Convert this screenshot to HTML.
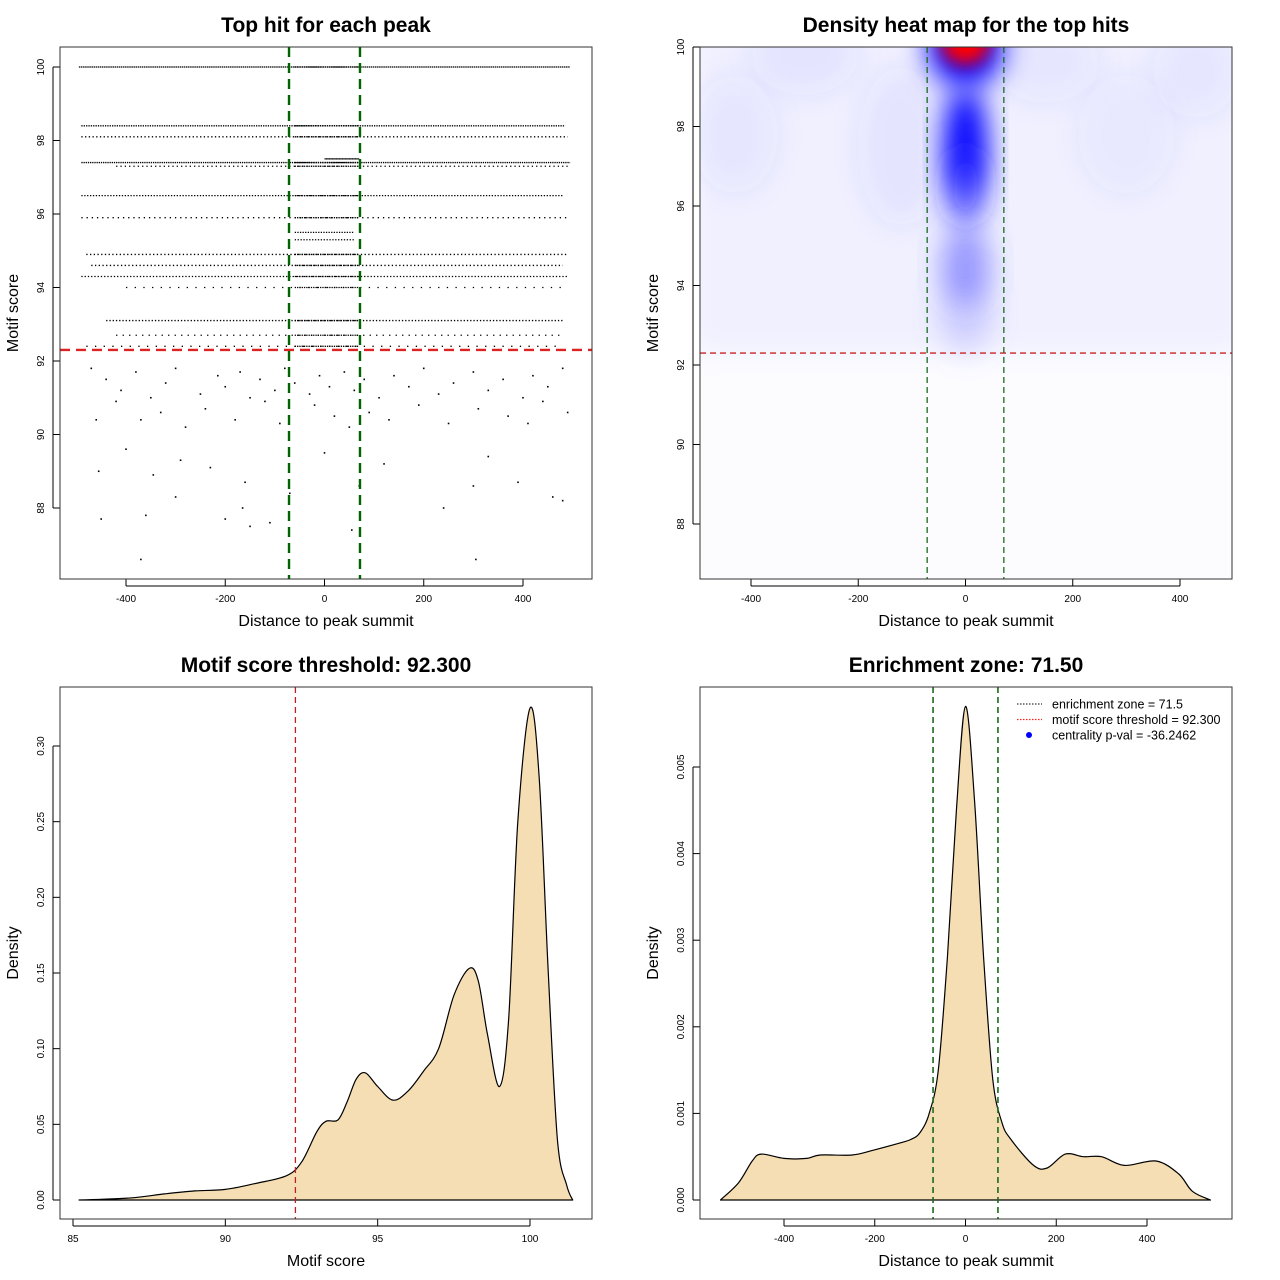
<!DOCTYPE html>
<html><head><meta charset="utf-8">
<style>
html,body{margin:0;padding:0;background:#fff;}
svg{display:block;font-family:"Liberation Sans",sans-serif;}
</style></head>
<body>
<svg id="chart" width="1280" height="1280" viewBox="0 0 1280 1280">
<defs>
<filter id="blur" x="-50%" y="-50%" width="200%" height="200%"><feGaussianBlur stdDeviation="14"/></filter>
<filter id="blur2" x="-50%" y="-50%" width="200%" height="200%"><feGaussianBlur stdDeviation="8"/></filter>
<clipPath id="clip2"><rect x="700" y="47" width="532" height="532"/></clipPath>
</defs>
</svg>
<script>
// ---------- Panel 1 data: top hit scatter ----------
const bandScores = [100, 98.4, 98.1, 97.5, 97.4, 97.3, 96.5, 95.9, 95.5, 95.3, 94.9, 94.6, 94.3, 94.0, 93.1, 92.7, 92.4];
const bandStart  = [-495, -490, -490, 0, -490, -420, -490, -490, -60, -60, -480, -470, -490, -400, -440, -420, -480];
const bandEnd    = [495, 485, 490, 70, 495, 490, 480, 495, 60, 60, 490, 480, 490, 480, 480, 480, 470];
const bandDensity= [1.0, 0.55, 0.35, 0.9, 0.6, 0.3, 0.45, 0.25, 0.5, 0.45, 0.35, 0.35, 0.4, 0.15, 0.4, 0.2, 0.15];
const lowX = [-470,-440,-410,-380,-350,-320,-300,-250,-215,-200,-170,-150,-130,-100,-80,-60,-30,-10,10,40,60,80,110,140,170,200,230,260,300,330,360,400,420,450,480,
  -460,-420,-370,-330,-280,-240,-180,-120,-90,-20,20,50,90,130,190,250,310,370,410,440,490,
  -455,-400,-345,-300,-230,-160,-70,0,70,120,240,330,390,460,-450,-360,-200,-150,55,300,480,-370,305,-165,-110,-290];
const lowY = [91.8,91.5,91.2,91.7,91.0,91.4,91.8,91.1,91.6,91.3,91.7,91.0,91.5,91.2,91.8,91.4,91.1,91.6,91.3,91.7,91.2,91.5,91.0,91.6,91.3,91.8,91.1,91.4,91.7,91.2,91.5,91.0,91.6,91.3,91.8,
  90.4,90.9,90.4,90.6,90.2,90.7,90.4,90.9,90.3,90.8,90.5,90.2,90.6,90.4,90.8,90.3,90.7,90.5,90.3,90.9,90.6,
  89.0,89.6,88.9,88.3,89.1,88.7,88.4,89.5,88.6,89.2,88.0,89.4,88.7,88.3,87.7,87.8,87.7,87.5,87.4,88.6,88.2,86.6,86.6,88.0,87.6,89.3];
const xTicks1 = [-400,-200,0,200,400];
const yTicks1 = [88,90,92,94,96,98,100];
// ---------- Panel 2 data: density heat blobs ----------
const blobX = [0, 0, 0, 0, 0, -430, -300, -120, 150, 300, 430, 0];
const blobY = [100, 97.7, 96.5, 94.5, 93.3, 97.8, 99.8, 97.5, 99.6, 97.8, 99.4, 100.1];
const blobRX = [70, 40, 40, 45, 50, 80, 100, 80, 100, 90, 80, 45];
const blobRY = [1.0, 1.3, 1.0, 1.0, 1.0, 1.5, 1.0, 2.0, 1.0, 1.5, 1.2, 0.55];
const blobAlpha = [1.0, 1.0, 0.7, 0.55, 0.3, 0.06, 0.07, 0.07, 0.06, 0.05, 0.06, 1.0];
const blobColor = ['#0000ff','#0000ff','#2020ff','#5050ff','#8080ff','#4040ff','#4040ff','#4040ff','#4040ff','#4040ff','#4040ff','#ff0000'];
const xTicks2 = [-400,-200,0,200,400];
const yTicks2 = [88,90,92,94,96,98,100];
// ---------- Panel 3 data: motif score density ----------
const scoreX = [85.2,86,87,88,89,90,91,92,92.5,93,93.3,93.7,94,94.3,94.6,95,95.5,96,96.5,97,97.5,98,98.3,98.6,99,99.3,99.6,100,100.3,100.6,100.9,101.2,101.4];
const scoreD = [0,0.0005,0.0015,0.004,0.006,0.007,0.011,0.016,0.025,0.045,0.052,0.053,0.065,0.08,0.084,0.075,0.066,0.072,0.085,0.1,0.135,0.153,0.145,0.11,0.075,0.12,0.25,0.325,0.28,0.15,0.04,0.01,0];
const xTicks3 = [85,90,95,100];
const yTicks3 = [0,0.05,0.10,0.15,0.20,0.25,0.30];
const yTickLabels3 = ['0.00','0.05','0.10','0.15','0.20','0.25','0.30'];
// ---------- Panel 4 data: distance density ----------
const distX = [-540,-500,-470,-450,-400,-350,-320,-250,-200,-150,-120,-100,-80,-60,-40,-20,0,20,40,60,80,100,150,180,220,260,300,350,420,470,500,540];
const distD = [0,0.0002,0.00045,0.00053,0.00048,0.00048,0.00052,0.00052,0.00058,0.00065,0.0007,0.00078,0.001,0.0015,0.0028,0.0045,0.0057,0.0046,0.0028,0.0014,0.0009,0.0007,0.0004,0.00037,0.00053,0.0005,0.0005,0.0004,0.00045,0.0003,0.0001,0];
const xTicks4 = [-400,-200,0,200,400];
const yTicks4 = [0,0.001,0.002,0.003,0.004,0.005];
const yTickLabels4 = ['0.000','0.001','0.002','0.003','0.004','0.005'];
const threshold = 92.3;
const zone = 71.5;

const svg = document.getElementById('chart');
const NS = 'http://www.w3.org/2000/svg';
function mk(tag, attrs, parent, text){
  const e = document.createElementNS(NS, tag);
  for (const k in attrs) e.setAttribute(k, attrs[k]);
  if (text !== undefined) e.textContent = text;
  (parent || svg).appendChild(e);
  return e;
}
function lin(d0,d1,r0,r1){ return v => r0 + (v-d0)*(r1-r0)/(d1-d0); }
function smooth(P){
  let d = `M${P[0][0].toFixed(1)},${P[0][1].toFixed(1)}`;
  for (let i=0;i<P.length-1;i++){
    const p0 = P[Math.max(0,i-1)], p1 = P[i], p2 = P[i+1], p3 = P[Math.min(P.length-1,i+2)];
    const c1x = p1[0]+(p2[0]-p0[0])/6, c1y = p1[1]+(p2[1]-p0[1])/6;
    const c2x = p2[0]-(p3[0]-p1[0])/6, c2y = p2[1]-(p3[1]-p1[1])/6;
    d += ` C${c1x.toFixed(1)},${c1y.toFixed(1)} ${c2x.toFixed(1)},${c2y.toFixed(1)} ${p2[0].toFixed(1)},${p2[1].toFixed(1)}`;
  }
  return d;
}

function frame(x0,y0,title,xlabel,ylabel,xs,ys,xt,yt,ytl,name){
  const g = mk('g',{});
  
  
  const t = mk('text',{x:x0+266,y:y0-15,'text-anchor':'middle','font-size':21,'font-weight':'bold'},g,title);
  
  
  const xl = mk('text',{x:x0+266,y:y0+579,'text-anchor':'middle','font-size':16},g,xlabel);
  
  
  const yl = mk('text',{x:x0-42,y:y0+266,'text-anchor':'middle','font-size':16,transform:`rotate(-90 ${x0-42} ${y0+266})`},g,ylabel);
  
  
  const xa = mk('g',{},g);
  
  
  xt.forEach(v=>{
    const px = xs(v);
    mk('line',{x1:px,x2:px,y1:y0+532,y2:y0+539,stroke:'#000'},xa);
    const l = mk('text',{x:px,y:y0+555,'text-anchor':'middle','font-size':10},xa,String(v));
    
    
  });
  mk('line',{x1:xs(xt[0]),x2:xs(xt[xt.length-1]),y1:y0+539,y2:y0+539,stroke:'#000'},xa);
  const ya = mk('g',{},g);
  
  
  yt.forEach((v,i)=>{
    const py = ys(v);
    mk('line',{x1:x0-7,x2:x0,y1:py,y2:py,stroke:'#000'},ya);
    const l = mk('text',{x:x0-16,y:py,'text-anchor':'middle','font-size':10,transform:`rotate(-90 ${x0-16} ${py})`},ya,ytl?ytl[i]:String(v));
    
    
  });
  mk('line',{x1:x0-7,x2:x0-7,y1:ys(yt[0]),y2:ys(yt[yt.length-1]),stroke:'#000'},ya);
  return g;
}
function box(x0,y0,g){
  const b = mk('rect',{x:x0,y:y0,width:532,height:532,fill:'none',stroke:'#333'},g);
  
  
}

// ===== Panel 1 =====
{
  const xs = lin(0,400,324.5,523), ys = lin(100,88,67,508);
  const g = frame(60,47,'Top hit for each peak','Distance to peak summit','Motif score',xs,ys,xTicks1,yTicks1,null,'scatter-panel');
  const pts = mk('g',{},g);
  
  
  bandScores.forEach((s,i)=>{
    const d = bandDensity[i];
    const gap = d>=1 ? 0 : (1.3/d - 1.3);
    const l = mk('line',{x1:xs(bandStart[i]),x2:xs(bandEnd[i]),y1:ys(s),y2:ys(s),stroke:'#000','stroke-width':1.3,'stroke-dasharray': gap>0 ? `1.3 ${gap.toFixed(2)}` : '1.5 0.6'},pts);
    
    
  });
  bandScores.forEach((s,i)=>{
    if (bandStart[i] < -60 && bandEnd[i] > 60) {
      mk('line',{x1:xs(-60),x2:xs(70),y1:ys(s),y2:ys(s),stroke:'#000','stroke-width':1.3,'stroke-dasharray':'1.3 1'},pts);
    }
  });
  lowX.forEach((x,i)=>{
    const c = mk('rect',{x:xs(x)-0.8,y:ys(lowY[i])-0.8,width:1.6,height:1.6,fill:'#000'},pts);
    
    
  });
  const th = mk('line',{x1:60,x2:592,y1:ys(threshold),y2:ys(threshold),stroke:'#dd2222','stroke-width':2.4,'stroke-dasharray':'10 6'},g);
  
  
  [-zone,zone].forEach(z=>{
    const l = mk('line',{x1:xs(z),x2:xs(z),y1:47,y2:579,stroke:'#006400','stroke-width':2.4,'stroke-dasharray':'10 6'},g);
    
    
  });
  box(60,47,g);
}
// ===== Panel 2 =====
{
  const xs = lin(0,400,965.5,1180), ys = lin(100,88,47,524);
  const g = frame(700,47,'Density heat map for the top hits','Distance to peak summit','Motif score',xs,ys,xTicks2,yTicks2,null,'heatmap-panel');
  const hm = mk('g',{'clip-path':'url(#clip2)'},g);
  
  
  mk('rect',{x:700,y:47,width:532,height:532,fill:'#fcfcff'},hm);
  mk('rect',{x:690,y:ys(100.8),width:560,height:ys(92.3)-ys(100.8),fill:'#f0f0ff',filter:'url(#blur)'},hm);
  blobX.forEach((x,i)=>{
    const e = mk('ellipse',{cx:xs(x),cy:ys(blobY[i]),rx:blobRX[i]*0.536,ry:blobRY[i]*39.75,fill:blobColor[i],'fill-opacity':blobAlpha[i],filter: i===11 ? 'url(#blur2)' : 'url(#blur)'},hm);
    
    
  });
  const th = mk('line',{x1:700,x2:1232,y1:ys(threshold),y2:ys(threshold),stroke:'#cc2222','stroke-width':1.3,'stroke-dasharray':'6 4'},g);
  
  
  [-zone,zone].forEach(z=>{
    const l = mk('line',{x1:xs(z),x2:xs(z),y1:47,y2:579,stroke:'#1a6b1a','stroke-width':1.3,'stroke-dasharray':'6 4'},g);
    
    
  });
  box(700,47,g);
}
// ===== Panel 3 =====
{
  const xs = lin(85,100,73,530), ys = lin(0,0.30,1200,746);
  const g = frame(60,687,'Motif score threshold: 92.300','Motif score','Density',xs,ys,xTicks3,yTicks3,yTickLabels3,'score-density-panel');
  const P = scoreX.map((x,i)=>[xs(x), ys(scoreD[i])]);
  const d = smooth(P) + ' Z';
  const a = mk('path',{d,fill:'#f5deb3',stroke:'#000','stroke-width':1.2,'stroke-linejoin':'round'},g);
  
  
  const th = mk('line',{x1:xs(threshold),x2:xs(threshold),y1:687,y2:1219,stroke:'#bb2222','stroke-width':1.3,'stroke-dasharray':'6 4'},g);
  
  
  box(60,687,g);
}
// ===== Panel 4 =====
{
  const xs = lin(0,400,965.5,1147), ys = lin(0,0.005,1200,767);
  const g = frame(700,687,'Enrichment zone: 71.50','Distance to peak summit','Density',xs,ys,xTicks4,yTicks4,yTickLabels4,'distance-density-panel');
  const P = distX.map((x,i)=>[xs(x), ys(distD[i])]);
  const d = smooth(P) + ' Z';
  const a = mk('path',{d,fill:'#f5deb3',stroke:'#000','stroke-width':1.2,'stroke-linejoin':'round'},g);
  
  
  [-zone,zone].forEach(z=>{
    const l = mk('line',{x1:xs(z),x2:xs(z),y1:687,y2:1219,stroke:'#1a6b1a','stroke-width':1.6,'stroke-dasharray':'6 4'},g);
    
    
  });
  const lg = mk('g',{},g);
  
  
  const items = [['enrichment zone = 71.5','#333','line'],['motif score threshold = 92.300','#ff2222','line'],['centrality p-val = -36.2462','#0000ff','dot']];
  items.forEach((it,i)=>{
    const y = 704 + i*15.5;
    const e = mk('g',{},lg);
    
    
    if (it[2]==='line') mk('line',{x1:1017,x2:1042,y1:y,y2:y,stroke:it[1],'stroke-width':1.2,'stroke-dasharray':'1.5 1.5'},e);
    else mk('circle',{cx:1029,cy:y,r:3,fill:it[1]},e);
    mk('text',{x:1052,y:y+4.5,'font-size':12.5},e,it[0]);
  });
  box(700,687,g);
}
</script>
</body></html>
